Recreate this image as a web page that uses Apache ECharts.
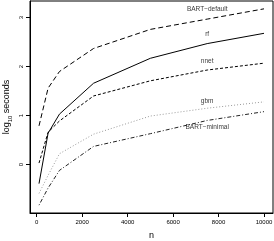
<!DOCTYPE html>
<html><head><meta charset="utf-8">
<script src="https://cdn.jsdelivr.net/npm/echarts@6/dist/echarts.min.js"></script>
<style>html,body{margin:0;padding:0;background:#fff}#c{width:274px;height:241px}</style>
</head><body><div id="c"></div>
<script>
const nValues = [100, 500, 1000, 2500, 5000, 7500, 10000];
const bartDefault = [0.79, 1.56, 1.90, 2.37, 2.76, 2.97, 3.18];
const rf = [-0.39, 0.64, 1.03, 1.66, 2.17, 2.47, 2.68];
const nnet = [0.03, 0.66, 0.89, 1.40, 1.71, 1.93, 2.07];
const gbm = [-0.59, -0.22, 0.22, 0.62, 0.99, 1.15, 1.28];
const bartMinimal = [-0.83, -0.48, -0.12, 0.37, 0.63, 0.90, 1.08];
const xTicks = [0, 2000, 4000, 6000, 8000, 10000];
const yTicks = [0, 1, 2, 3];
const labelNames = ['BART\u2212default', 'rf', 'nnet', 'gbm', 'BART\u2212minimal'];
const labelX = [7500, 7500, 7500, 7500, 7500];
const labelY = [3.17, 2.66, 2.11, 1.30, 0.76];

const FONT = 'Liberation Sans, Arial, sans-serif';
function pts(ys){ return nValues.map((x,i)=>[x, ys[i]]); }
function lineSeries(ys, color, type){
  return {type:'line', data:pts(ys), symbol:'none', silent:true, animation:false,
    lineStyle:{color:color, width:1, type:type}};
}
const chart = echarts.init(document.getElementById('c'), null, {renderer:'canvas'});
chart.setOption({
  animation:false,
  grid:{left:30, right:1, top:1, bottom:28, outerBoundsMode:'none', containLabel:false,
    show:true, borderColor:'#000', borderWidth:1, backgroundColor:'transparent'},
  xAxis:{type:'value', min:-296, max:10396,
    name:'n', nameLocation:'middle', nameGap:18, nameMoveOverlap:false,
    nameTextStyle:{fontFamily:FONT, fontSize:9, color:'#000'},
    axisLine:{show:true, onZero:false, lineStyle:{color:'#000'}},
    axisTick:{show:true, length:4, inside:false, customValues:xTicks, lineStyle:{color:'#000'}},
    axisLabel:{customValues:xTicks, formatter:v=>String(v), fontFamily:FONT, fontSize:6, color:'#000', margin:6},
    splitLine:{show:false}},
  yAxis:{type:'value', min:-0.99, max:3.34,
    name:'log{s|10} seconds', nameLocation:'middle', nameGap:17, nameRotate:90, nameMoveOverlap:false,
    nameTextStyle:{fontFamily:FONT, fontSize:9, color:'#000',
      rich:{s:{fontFamily:FONT, fontSize:6, color:'#000', verticalAlign:'bottom', padding:[6,0,0,0]}}},
    axisLine:{show:true, onZero:false, lineStyle:{color:'#000'}},
    axisTick:{show:true, length:4, customValues:yTicks, lineStyle:{color:'#000'}},
    axisLabel:{customValues:yTicks, formatter:v=>String(v), rotate:90, fontFamily:FONT, fontSize:6, color:'#000', margin:6},
    splitLine:{show:false}},
  series:[
    lineSeries(bartDefault, '#000', [5,3]),
    lineSeries(rf, '#000', 'solid'),
    lineSeries(nnet, '#000', [3,2]),
    lineSeries(gbm, '#999', [1,2]),
    lineSeries(bartMinimal, '#222', [1,2,4,2]),
    {type:'scatter', silent:true, symbolSize:0, animation:false,
      data: labelNames.map((n,i)=>({value:[labelX[i], labelY[i]], name:n})),
      label:{show:true, position:'inside', formatter:p=>p.name, fontFamily:FONT, fontSize:6.5, color:'#000'}}
  ]
});
</script></body></html>
